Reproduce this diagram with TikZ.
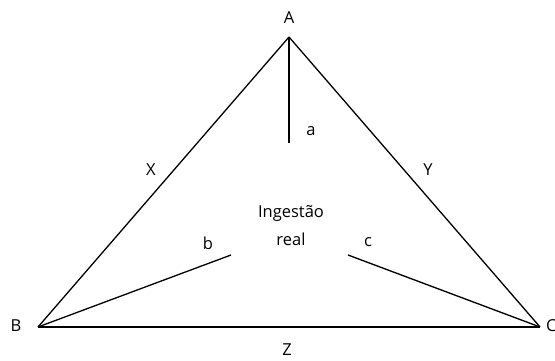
\documentclass[tikz,border=0pt]{standalone}
\usepackage{fontspec}
\setmainfont{Open Sans}

\begin{document}
\begin{tikzpicture}[
  x=1pt, y=-1pt,  lbl/.style={inner sep=0pt,font=\fontsize{16.5}{20}\selectfont},  side/.style={line width=1.3pt},  spoke/.style={line width=1.3pt}
]
  \useasboundingbox (0,0) rectangle (555,361);
  \coordinate (A) at (289,37);
  \coordinate (B) at (38,327);
  \coordinate (C) at (540,327);
  \coordinate (ea) at (289,143);
  \coordinate (eb) at (231,255);
  \coordinate (ec) at (348,255);
  \node[lbl] (lA) at (289,18) {A};
  \node[lbl] (lB) at (16,326) {B};
  \node[lbl,anchor=west] (lC) at (546,326) {C};
  \node[lbl] (lX) at (151,170) {X};
  \node[lbl] (lY) at (428,170) {Y};
  \node[lbl] (lZ) at (287,350) {Z};
  \node[lbl] (la) at (311,131) {a};
  \node[lbl] (lb) at (208,243) {b};
  \node[lbl] (lc) at (368,242) {c};
  \node[lbl,align=center,font=\fontsize{16.5}{28}\selectfont] (mid) at (291,226) {Ingestão\\real};
  \draw[side] (A) -- (B);
  \draw[side] (A) -- (C);
  \draw[side,line width=2pt] (B) -- (C);
  \draw[spoke,line width=2pt] (A) -- (ea);
  \draw[spoke] (B) -- (eb);
  \draw[spoke] (C) -- (ec);
\end{tikzpicture}
\end{document}
